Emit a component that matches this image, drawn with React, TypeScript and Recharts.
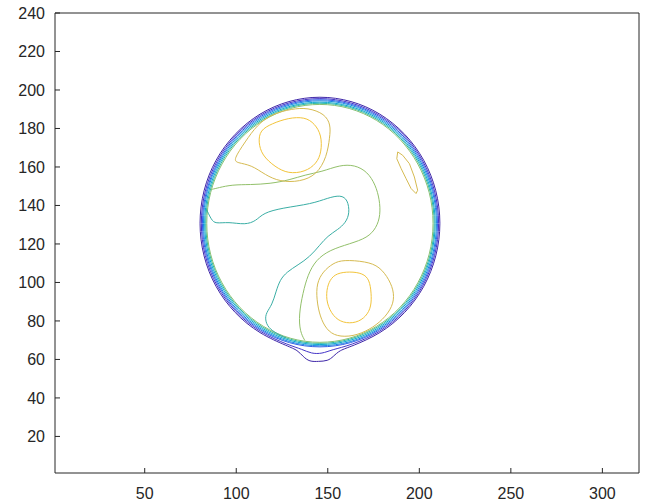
import React from 'react';
import { LineChart, Line, XAxis, YAxis } from 'recharts';

// axis ticks
const xTicks = [50, 100, 150, 200, 250, 300];
const yTicks = [20, 40, 60, 80, 100, 120, 140, 160, 180, 200, 220, 240];

// outer boundary rings (outermost first), [x, y] in image units
const ring0 = [[212.0,130.7],[209.7,147.9],[203.1,163.8],[192.5,177.5],[178.8,188.1],[162.9,194.7],[145.7,197.0],[128.6,194.7],[112.6,188.1],[98.9,177.5],[88.3,163.8],[81.7,147.9],[79.5,130.7],[81.7,113.6],[88.3,97.6],[98.9,83.9],[112.6,73.3],[128.6,66.7],[133.5,64.8],[136.5,61.5],[140.0,58.8],[145.0,59.0],[150.0,59.2],[153.0,61.5],[156.5,64.8],[162.9,66.7],[178.8,73.3],[192.5,83.9],[203.1,97.6],[209.7,113.6]];
const ring1 = [[211.3,130.7],[209.0,147.7],[202.5,163.5],[192.1,177.1],[178.5,187.5],[162.7,194.0],[145.7,196.3],[128.7,194.0],[112.9,187.5],[99.4,177.1],[88.9,163.5],[82.4,147.7],[80.2,130.7],[82.4,113.7],[88.9,97.9],[99.4,84.4],[112.9,73.9],[128.7,67.4],[136.0,65.3],[141.0,63.0],[147.0,63.0],[152.0,65.0],[162.7,67.4],[178.5,73.9],[192.1,84.4],[202.5,97.9],[209.0,113.7]];
const ring2 = [[210.7,130.7],[208.4,147.5],[202.0,163.2],[191.6,176.6],[178.2,187.0],[162.5,193.4],[145.7,195.7],[128.9,193.4],[113.2,187.0],[99.8,176.6],[89.5,163.2],[83.0,147.5],[80.8,130.7],[83.0,113.9],[89.5,98.2],[99.8,84.8],[113.2,74.5],[128.9,68.0],[145.7,65.8],[162.5,68.0],[178.2,74.5],[191.6,84.8],[202.0,98.2],[208.4,113.9]];
const ring3 = [[210.1,130.7],[207.9,147.4],[201.4,162.9],[191.2,176.2],[177.9,186.4],[162.4,192.9],[145.7,195.1],[129.1,192.9],[113.5,186.4],[100.2,176.2],[90.0,162.9],[83.5,147.4],[81.4,130.7],[83.5,114.1],[90.0,98.5],[100.2,85.2],[113.5,75.0],[129.1,68.5],[145.7,66.4],[162.4,68.5],[177.9,75.0],[191.2,85.2],[201.4,98.5],[207.9,114.1]];
const ring4 = [[209.4,130.7],[207.2,147.2],[200.9,162.6],[190.7,175.7],[177.6,185.9],[162.2,192.2],[145.7,194.4],[129.2,192.2],[113.9,185.9],[100.7,175.7],[90.5,162.6],[84.2,147.2],[82.0,130.7],[84.2,114.2],[90.5,98.9],[100.7,85.7],[113.9,75.5],[129.2,69.2],[145.7,67.0],[162.2,69.2],[177.6,75.5],[190.7,85.7],[200.9,98.9],[207.2,114.2]];
const ring5 = [[208.8,130.7],[206.7,147.0],[200.3,162.3],[190.3,175.3],[177.3,185.3],[162.0,191.7],[145.7,193.8],[129.4,191.7],[114.2,185.3],[101.1,175.3],[91.1,162.3],[84.8,147.0],[82.6,130.7],[84.8,114.4],[91.1,99.2],[101.1,86.1],[114.2,76.1],[129.4,69.8],[145.7,67.6],[162.0,69.8],[177.3,76.1],[190.3,86.1],[200.3,99.2],[206.7,114.4]];
const ring6 = [[208.2,130.7],[206.1,146.9],[199.8,161.8],[189.9,174.9],[177.0,184.8],[161.9,191.1],[145.7,193.2],[129.5,191.1],[114.5,184.8],[101.5,174.9],[91.6,161.8],[85.3,146.9],[83.2,130.7],[85.3,114.5],[91.6,99.5],[101.5,86.5],[114.5,76.6],[129.5,70.3],[145.7,68.2],[161.9,70.3],[177.0,76.6],[189.9,86.5],[199.8,99.5],[206.1,114.5]];

// inner contours
const tealLine = [[84.0,137.5],[86.4,132.6],[88.6,130.5],[95.7,131.5],[104.9,129.9],[110.9,132.0],[114.7,136.1],[125.0,138.7],[141.3,140.8],[150.0,143.9],[157.1,145.5],[160.9,143.0],[162.0,136.2],[159.8,131.0],[155.4,127.4],[150.0,124.2],[145.7,119.5],[140.2,113.3],[133.7,109.1],[127.7,105.5],[123.9,101.4],[121.7,95.2],[119.6,88.4],[116.3,84.2],[115.8,80.6],[117.4,76.5],[122.3,73.3],[127.2,71.2]];
const greenLine = [[86.5,148.3],[90.2,149.2],[97.8,150.8],[107.6,150.8],[118.5,151.3],[129.3,153.3],[137.5,155.9],[146.7,157.5],[156.5,161.0],[164.7,161.1],[171.7,157.5],[176.1,150.7],[178.3,143.0],[178.8,135.1],[176.6,128.4],[171.7,123.2],[162.0,120.1],[151.1,116.9],[143.5,111.7],[139.1,104.0],[136.4,94.6],[134.2,83.2],[134.8,74.4],[137.5,69.8]];
const peakTopOuter = [[98.4,163.8],[104.9,173.1],[111.4,181.9],[119.6,187.6],[130.4,190.2],[139.1,190.8],[148.4,187.6],[151.6,181.9],[151.1,175.6],[149.5,165.3],[144.0,155.9],[134.8,152.3],[123.9,152.3],[115.8,155.9],[108.2,161.1],[100.5,162.1]];
const peakTopInner = [[113.0,179.1],[119.4,182.5],[128.4,185.5],[137.5,186.0],[142.9,182.5],[146.6,176.5],[146.6,167.8],[143.9,161.7],[137.5,157.4],[128.4,156.5],[121.2,160.0],[114.0,166.1],[112.1,173.0]];
const peakLowOuter = [[158.3,111.8],[171.0,110.9],[178.3,108.3],[183.7,101.4],[186.4,94.4],[185.5,87.5],[180.1,80.6],[172.8,75.4],[163.8,71.9],[154.7,71.9],[149.3,75.4],[145.7,82.3],[143.9,91.0],[143.9,99.6],[147.4,105.7],[152.9,110.0]];
const peakLowInner = [[154.7,104.8],[162.0,105.7],[169.2,104.8],[172.8,101.4],[173.8,94.4],[173.8,87.5],[171.0,82.3],[165.6,78.9],[158.3,78.9],[152.9,82.3],[149.3,89.3],[149.3,96.2],[151.1,101.4]];
const blobRight = [[188.2,167.8],[190.9,166.1],[194.6,161.7],[197.3,154.8],[199.1,147.9],[198.2,146.2],[195.5,148.8],[192.8,153.9],[190.1,159.1],[187.7,164.3]];

const toRows = (a: number[][]) => a.map(([x, y]) => ({ x, y }));

const contours = [
  { id: 'ring0', pts: ring0, color: '#3e26a8', curve: 'basisClosed' },
  { id: 'ring1', pts: ring1, color: '#4535c8', curve: 'basisClosed' },
  { id: 'ring2', pts: ring2, color: '#2f5fe8', curve: 'basisClosed' },
  { id: 'ring3', pts: ring3, color: '#1b86e0', curve: 'basisClosed' },
  { id: 'ring4', pts: ring4, color: '#0ba8cf', curve: 'basisClosed' },
  { id: 'ring5', pts: ring5, color: '#2eb7a4', curve: 'basisClosed' },
  { id: 'ring6', pts: ring6, color: '#86c174', curve: 'basisClosed' },
  { id: 'teal', pts: tealLine, color: '#3aaea5', curve: 'basis' },
  { id: 'green', pts: greenLine, color: '#92c06a', curve: 'basis' },
  { id: 'topOuter', pts: peakTopOuter, color: '#d6bb52', curve: 'basisClosed' },
  { id: 'topInner', pts: peakTopInner, color: '#f2c43a', curve: 'basisClosed' },
  { id: 'lowOuter', pts: peakLowOuter, color: '#d6bb52', curve: 'basisClosed' },
  { id: 'lowInner', pts: peakLowInner, color: '#f2c43a', curve: 'basisClosed' },
  { id: 'blob', pts: blobRight, color: '#d6bb52', curve: 'linearClosed' },
];

const axisColor = '#262626';
const font = { fontFamily: '"Liberation Sans", Arial, sans-serif', fontSize: 16, fill: axisColor };

export default function App() {
  return (
    <div style={{ position: 'absolute', left: 0, top: 0, background: '#fff' }}>
      <LineChart width={648} height={503} margin={{ top: 12, right: 8, bottom: 0, left: 0 }}>
        <XAxis
          xAxisId="b"
          type="number"
          dataKey="x"
          domain={[1, 320]}
          ticks={xTicks}
          allowDataOverflow
          height={30}
          tickSize={-5}
          tickMargin={20}
          axisLine={{ stroke: axisColor }}
          tickLine={{ stroke: axisColor }}
          tick={font}
        />
        <XAxis
          xAxisId="t"
          orientation="top"
          type="number"
          dataKey="x"
          domain={[1, 320]}
          ticks={xTicks}
          allowDataOverflow
          height={1}
          tickSize={5}
          axisLine={{ stroke: axisColor }}
          tickLine={{ stroke: axisColor }}
          tick={false}
        />
        <YAxis
          yAxisId="l"
          type="number"
          domain={[1, 240]}
          ticks={yTicks}
          allowDataOverflow
          width={55}
          tickSize={-5}
          tickMargin={15}
          axisLine={{ stroke: axisColor }}
          tickLine={{ stroke: axisColor }}
          tick={font}
        />
        <YAxis
          yAxisId="r"
          orientation="right"
          type="number"
          domain={[1, 240]}
          ticks={yTicks}
          allowDataOverflow
          width={1}
          tickSize={5}
          axisLine={{ stroke: axisColor }}
          tickLine={{ stroke: axisColor }}
          tick={false}
        />
        {contours.map((c) => (
          <Line
            key={c.id}
            xAxisId="b"
            yAxisId="l"
            data={toRows(c.pts)}
            dataKey="y"
            type={c.curve as any}
            stroke={c.color}
            strokeWidth={1}
            dot={false}
            activeDot={false}
            isAnimationActive={false}
          />
        ))}
      </LineChart>
    </div>
  );
}
